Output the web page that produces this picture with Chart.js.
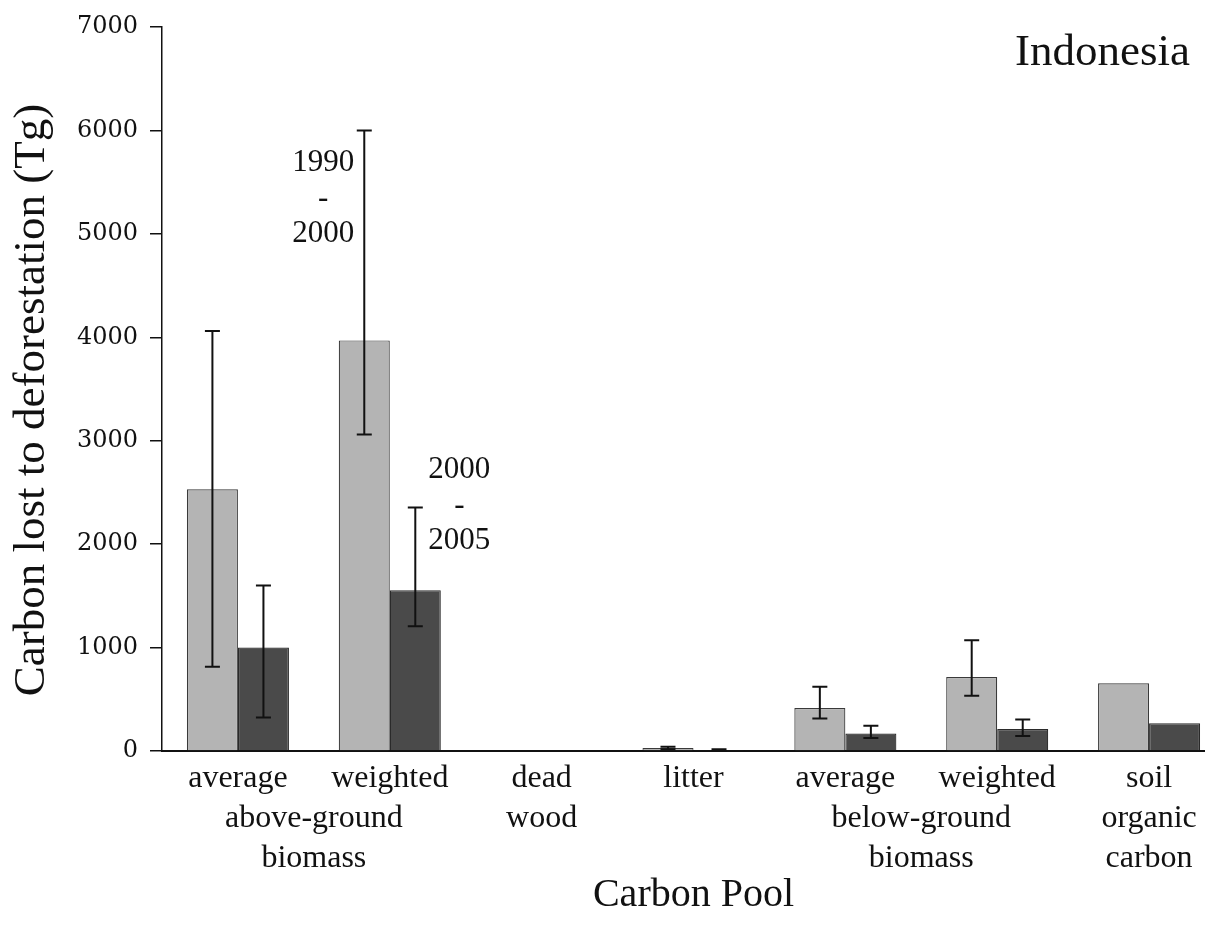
<!DOCTYPE html>
<html>
<head>
<meta charset="utf-8">
<script src="https://cdn.jsdelivr.net/npm/chart.js@4.4.0/dist/chart.umd.min.js"></script>
<style>
    html, body { margin: 0; padding: 0; background: #fff; overflow: hidden; }
    #wrap { width: 1205px; height: 935px; overflow: hidden; position: relative; }
</style>
</head>
<body>
<div id="wrap">
    <canvas id="myChart" width="1240" height="935"></canvas>
</div>
<script>
// Carbon pools on the x axis
var categories = [['average'], ['weighted'], ['dead', 'wood'], ['litter'], ['average'], ['weighted'], ['soil', 'organic', 'carbon']];
// labels shared by two neighbouring pools
var groupLabels = [
    { text: ['', 'above-ground', 'biomass'], from: 0, to: 1 },
    { text: ['', 'below-ground', 'biomass'], from: 4, to: 5 }
];

// 1990 - 2000 period
var lost1990 = [2530, 3970, 0, 30, 415, 715, 655];
var low1990 = [815, 3060, null, 18, 315, 535, null];
var high1990 = [4060, 6000, null, 42, 620, 1070, null];

// 2000 - 2005 period
var lost2000 = [1000, 1555, 0, 10, 168, 212, 268];
var low2000 = [325, 1205, null, 5, 125, 145, null];
var high2000 = [1600, 2355, null, 18, 243, 305, null];

var yTicks = [0, 1000, 2000, 3000, 4000, 5000, 6000, 7000];

var serif = "'Liberation Serif', 'Times New Roman', serif";

// error bars, period labels, group labels, titles
var extras = {
    id: 'extras',
    afterDatasetsDraw: function (chart) {
        var ctx = chart.ctx;
        var y = chart.scales.y;
        var lows = [low1990, low2000];
        var highs = [high1990, high2000];
        ctx.save();
        ctx.strokeStyle = '#111';
        ctx.lineWidth = 2;
        for (var d = 0; d < 2; d++) {
            var meta = chart.getDatasetMeta(d);
            meta.data.forEach(function (bar, i) {
                if (highs[d][i] == null) return;
                var top = y.getPixelForValue(highs[d][i]);
                var bottom = y.getPixelForValue(lows[d][i]);
                ctx.beginPath();
                ctx.moveTo(bar.x, top);
                ctx.lineTo(bar.x, bottom);
                ctx.moveTo(bar.x - 7.5, top);
                ctx.lineTo(bar.x + 7.5, top);
                ctx.moveTo(bar.x - 7.5, bottom);
                ctx.lineTo(bar.x + 7.5, bottom);
                ctx.stroke();
            });
        }
        ctx.restore();
    },
    afterDraw: function (chart) {
        var ctx = chart.ctx;
        var x = chart.scales.x;
        var area = chart.chartArea;
        ctx.save();
        ctx.fillStyle = '#111';
        ctx.textAlign = 'center';
        ctx.textBaseline = 'alphabetic';

        // period labels next to the weighted above-ground bars
        ctx.font = '31px ' + serif;
        var spots = [{ ds: 0, dx: -41, y: 171 }, { ds: 1, dx: 44, y: 478 }];
        spots.forEach(function (s) {
            var bar = chart.getDatasetMeta(s.ds).data[1];
            var lines = chart.data.datasets[s.ds].label.split(' ');
            lines.forEach(function (t, k) {
                ctx.fillText(t, bar.x + s.dx, s.y + k * 35.5);
            });
        });

        // shared group labels under the tick labels
        ctx.font = '32px ' + serif;
        ctx.textBaseline = 'middle';
        var lh = 40;
        var top = x.top + 8;
        groupLabels.forEach(function (g) {
            var cx = (x.getPixelForTick(g.from) + x.getPixelForTick(g.to)) / 2;
            g.text.forEach(function (t, k) {
                if (t) ctx.fillText(t, cx, top + lh / 2 + k * lh);
            });
        });

        // axis titles
        ctx.textBaseline = 'alphabetic';
        ctx.font = '40px ' + serif;
        ctx.fillText('Carbon Pool', (area.left + area.right) / 2, 906);
        ctx.save();
        ctx.translate(44, 400);
        ctx.rotate(-Math.PI / 2);
        ctx.font = '45px ' + serif;
        ctx.fillText('Carbon lost to deforestation (Tg)', 0, 0);
        ctx.restore();

        // country name
        ctx.font = '45px ' + serif;
        ctx.textAlign = 'right';
        ctx.fillText('Indonesia', 1190, 65);
        ctx.restore();
    }
};

var ctx = document.getElementById('myChart').getContext('2d');
var myChart = new Chart(ctx, {
    type: 'bar',
    data: {
        labels: categories,
        datasets: [{
            label: '1990 - 2000',
            data: lost1990,
            backgroundColor: '#b4b4b4',
            borderColor: '#3a3a3a',
            borderWidth: 1.2
        },
        {
            label: '2000 - 2005',
            data: lost2000,
            backgroundColor: '#4a4a4a',
            borderColor: '#2a2a2a',
            borderWidth: 1.2
        }]
    },
    options: {
        responsive: false,
        devicePixelRatio: 1,
        animation: false,
        layout: {
            padding: { left: 0, right: 15, top: 27, bottom: 0 }
        },
        datasets: {
            bar: { categoryPercentage: 0.672, barPercentage: 1 }
        },
        plugins: {
            legend: { display: false },
            tooltip: { enabled: false }
        },
        scales: {
            x: {
                grid: { display: false, drawTicks: false },
                border: { color: '#111', width: 2 },
                ticks: {
                    color: '#111',
                    padding: 8,
                    maxRotation: 0,
                    autoSkip: false,
                    font: { family: serif, size: 32, lineHeight: 1.25 }
                },
                afterFit: function (scale) { scale.height = 184; }
            },
            y: {
                min: 0,
                max: 7000,
                afterBuildTicks: function (scale) {
                    scale.ticks = yTicks.map(function (v) { return { value: v }; });
                },
                grid: { drawOnChartArea: false, drawTicks: true, tickLength: 12, color: '#111', lineWidth: 1.5 },
                border: { color: '#111', width: 1.5 },
                ticks: {
                    color: '#111',
                    padding: 12,
                    font: { family: "'DejaVu Serif', serif", size: 24 },
                    callback: function (value) { return String(value); }
                },
                afterFit: function (scale) { scale.width = 162; }
            }
        }
    },
    plugins: [extras]
});
</script>
</body>
</html>
